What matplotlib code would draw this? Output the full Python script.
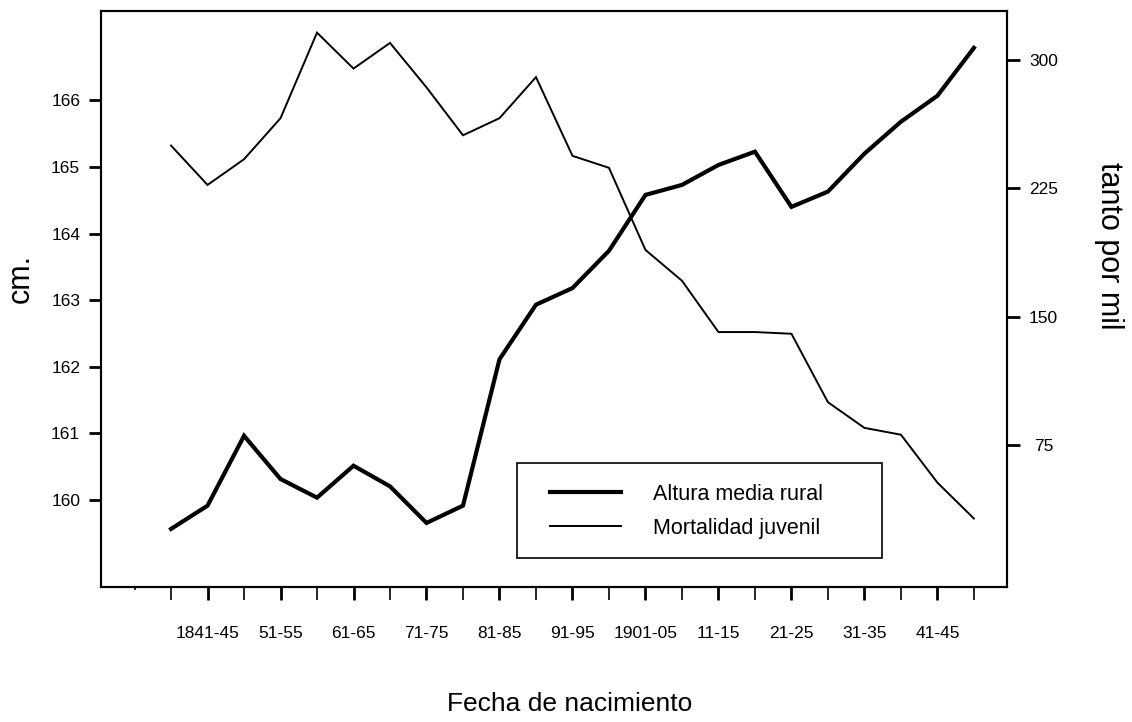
import numpy as np
import matplotlib
matplotlib.use('Agg')
import matplotlib.pyplot as plt
from matplotlib.patches import Rectangle

plt.rcParams['font.family'] = ['Liberation Sans', 'DejaVu Sans']

# cohorts by date of birth (5-year groups)
cohorts = ['1836-40', '1841-45', '46-50', '51-55', '56-60', '61-65', '66-70',
           '71-75', '76-80', '81-85', '86-90', '91-95', '96-1900', '1901-05',
           '06-10', '11-15', '16-20', '21-25', '26-30', '31-35', '36-40',
           '41-45', '46-50']

# mean rural height (cm)
altura = [159.56, 159.91, 160.96, 160.31, 160.03, 160.51, 160.20, 159.65,
          159.91, 162.11, 162.93, 163.18, 163.74, 164.58, 164.73, 165.03,
          165.23, 164.40, 164.63, 165.20, 165.68, 166.07, 166.79]

# juvenile mortality (per thousand)
mortalidad = [250, 227, 242, 266, 316, 295, 310, 284, 256, 266, 290, 244,
              237, 189, 171, 141, 141, 140, 100, 85, 81, 53, 32]

left_ticks = [160, 161, 162, 163, 164, 165, 166]
right_ticks = [75, 150, 225, 300]

x = np.arange(len(cohorts))

fig = plt.figure(figsize=(11.32, 7.22), dpi=100)
ax = fig.add_axes([0.0892, 0.1863, 0.8008, 0.7981])
ax2 = ax.twinx()

l1, = ax.plot(x, altura, color='k', lw=3.0, solid_joinstyle='miter',
              label='Altura media rural')
l2, = ax2.plot(x, mortalidad, color='k', lw=1.4, solid_joinstyle='miter',
               label='Mortalidad juvenil')

ax.set_xlim(-1.92, 22.92)
ax.set_ylim(158.68, 167.34)
ax2.set_ylim(-8.3, 328.5)

# x ticks: labelled (thick) on odd positions, thin ones between
ax.set_xticks(x[1::2])
ax.set_xticklabels(cohorts[1::2])
ax.set_xticks(np.r_[-1, x[0::2]], minor=True)
ax.tick_params(axis='x', which='major', length=9.5, width=2.0, pad=18,
               labelsize=12.5)
ax.tick_params(axis='x', which='minor', length=9.5, width=1.2)
ax.xaxis.get_minor_ticks()[0].tick1line.set_markersize(2)

ax.set_yticks(left_ticks)
ax.tick_params(axis='y', length=9, width=2, pad=6, labelsize=12.5)
ax2.set_yticks(right_ticks)
ax2.tick_params(axis='y', length=9, width=2, pad=17, labelsize=12.5)
for lbl in ax2.get_yticklabels():
    lbl.set_ha('center')

for a in (ax, ax2):
    for sp in a.spines.values():
        sp.set_linewidth(1.5)

ax.set_xlabel('Fecha de nacimiento', fontsize=19)
ax.xaxis.set_label_coords(0.5165, -0.181)
ax.set_ylabel('cm.', fontsize=22, va='center', ha='center')
ax.yaxis.set_label_coords(-0.088, 0.537)
ax2.set_ylabel('tanto por mil', fontsize=22, rotation=270, va='center',
               ha='center')
ax2.yaxis.set_label_coords(1.112, 0.593)

# legend box drawn separately so the entries sit where they do in the original
ax2.add_patch(Rectangle((0.459, 0.0512), 0.4026, 0.1649, transform=ax2.transAxes,
                        fill=False, edgecolor='k', lw=1.2, zorder=5))
leg = ax2.legend(handles=[l1, l2], loc='center left',
                 bbox_to_anchor=(0.4953, 0.1325), fontsize=15.5,
                 frameon=False, handlelength=3.3, handletextpad=1.5,
                 borderpad=0, labelspacing=0.6, borderaxespad=0)

fig.savefig('out.png', dpi=100, facecolor='white')
